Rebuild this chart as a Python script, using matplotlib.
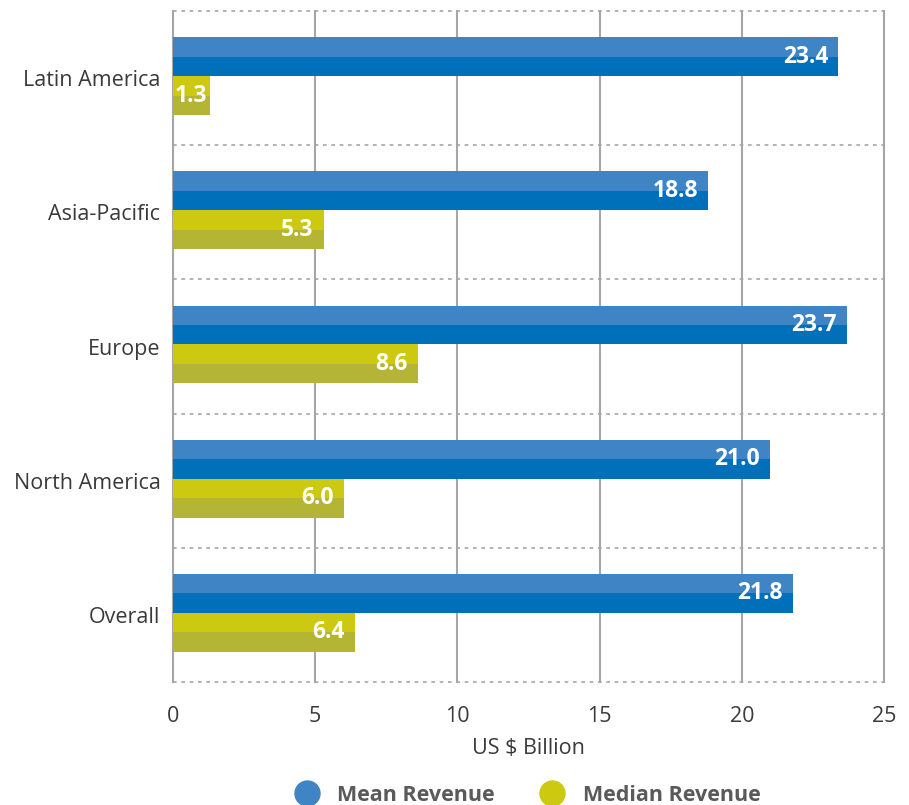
import matplotlib
matplotlib.use("Agg")
import matplotlib.pyplot as plt
from matplotlib.lines import Line2D

plt.rcParams['font.family'] = ['Open Sans', 'DejaVu Sans']

# regions listed bottom to top
regions = ["Overall", "North America", "Europe", "Asia-Pacific", "Latin America"]
mean_revenue = [21.8, 21.0, 23.7, 18.8, 23.4]
median_revenue = [6.4, 6.0, 8.6, 5.3, 1.3]
xticks = [0, 5, 10, 15, 20, 25]

MEAN_LIGHT, MEAN_DARK = "#3f84c5", "#0070bb"
MED_LIGHT, MED_DARK = "#cdc910", "#b5b535"
GRID = "#a6a6a6"
TEXT = "#3a3a3a"

fig = plt.figure(figsize=(9.09, 8.05), dpi=100)
ax = fig.add_axes([0.1903, 0.1528, 0.7822, 0.8335])

bar_h = 0.29
half = bar_h / 2
off = 0.015


def value_label(x, y, v):
    # short bars get the label from the left edge so it stays inside
    if v < 2:
        ax.text(0.05, y, f"{v:.1f}", color="white", fontsize=16.5,
                fontweight="bold", ha="left", va="center", zorder=4)
    else:
        ax.text(x - 0.35, y, f"{v:.1f}", color="white", fontsize=16.5,
                fontweight="bold", ha="right", va="center", zorder=4)


for i, (m, md) in enumerate(zip(mean_revenue, median_revenue)):
    base = i + off
    # mean bar above centre line, split in two tones
    ax.barh(base + half * 1.5, m, height=half, color=MEAN_LIGHT, zorder=3)
    ax.barh(base + half * 0.5, m, height=half, color=MEAN_DARK, zorder=3)
    # median bar below centre line
    ax.barh(base - half * 0.5, md, height=half, color=MED_LIGHT, zorder=3)
    ax.barh(base - half * 1.5, md, height=half, color=MED_DARK, zorder=3)

    value_label(m, base + half, m)
    value_label(md, base - half, md)

# solid vertical grid, dotted category separators
for x in xticks:
    ax.axvline(x, color=GRID, lw=1.5, zorder=1, clip_on=False)
for k in range(len(regions) + 1):
    ax.axhline(k - 0.5, color=GRID, lw=1.2, ls=(0, (2.2, 2.8)), zorder=2,
               clip_on=False)

ax.set_xlim(0, 25)
ax.set_ylim(-0.5, len(regions) - 0.5)
ax.set_xticks(xticks)
ax.set_yticks(range(len(regions)))
ax.set_yticklabels(regions)
for s in ax.spines.values():
    s.set_visible(False)
ax.tick_params(axis="both", length=0, labelsize=15.5, labelcolor=TEXT)
ax.tick_params(axis="x", pad=17)
ax.tick_params(axis="y", pad=9)
ax.set_xlabel("US $ Billion", fontsize=15.5, color=TEXT, labelpad=8)

handles = [
    Line2D([], [], ls="", marker="o", markersize=18, color=MEAN_LIGHT),
    Line2D([], [], ls="", marker="o", markersize=18, color=MED_LIGHT),
]
leg = fig.legend(handles, ["Mean Revenue", "Median Revenue"], ncol=2,
                 loc="center", bbox_to_anchor=(0.575, 0.012), frameon=False,
                 prop={"size": 15.5, "weight": "bold"}, columnspacing=1.7,
                 handletextpad=0.4, handlelength=2.0)
for t in leg.get_texts():
    t.set_color("#5a5a5a")

fig.savefig("out.png", dpi=100)
